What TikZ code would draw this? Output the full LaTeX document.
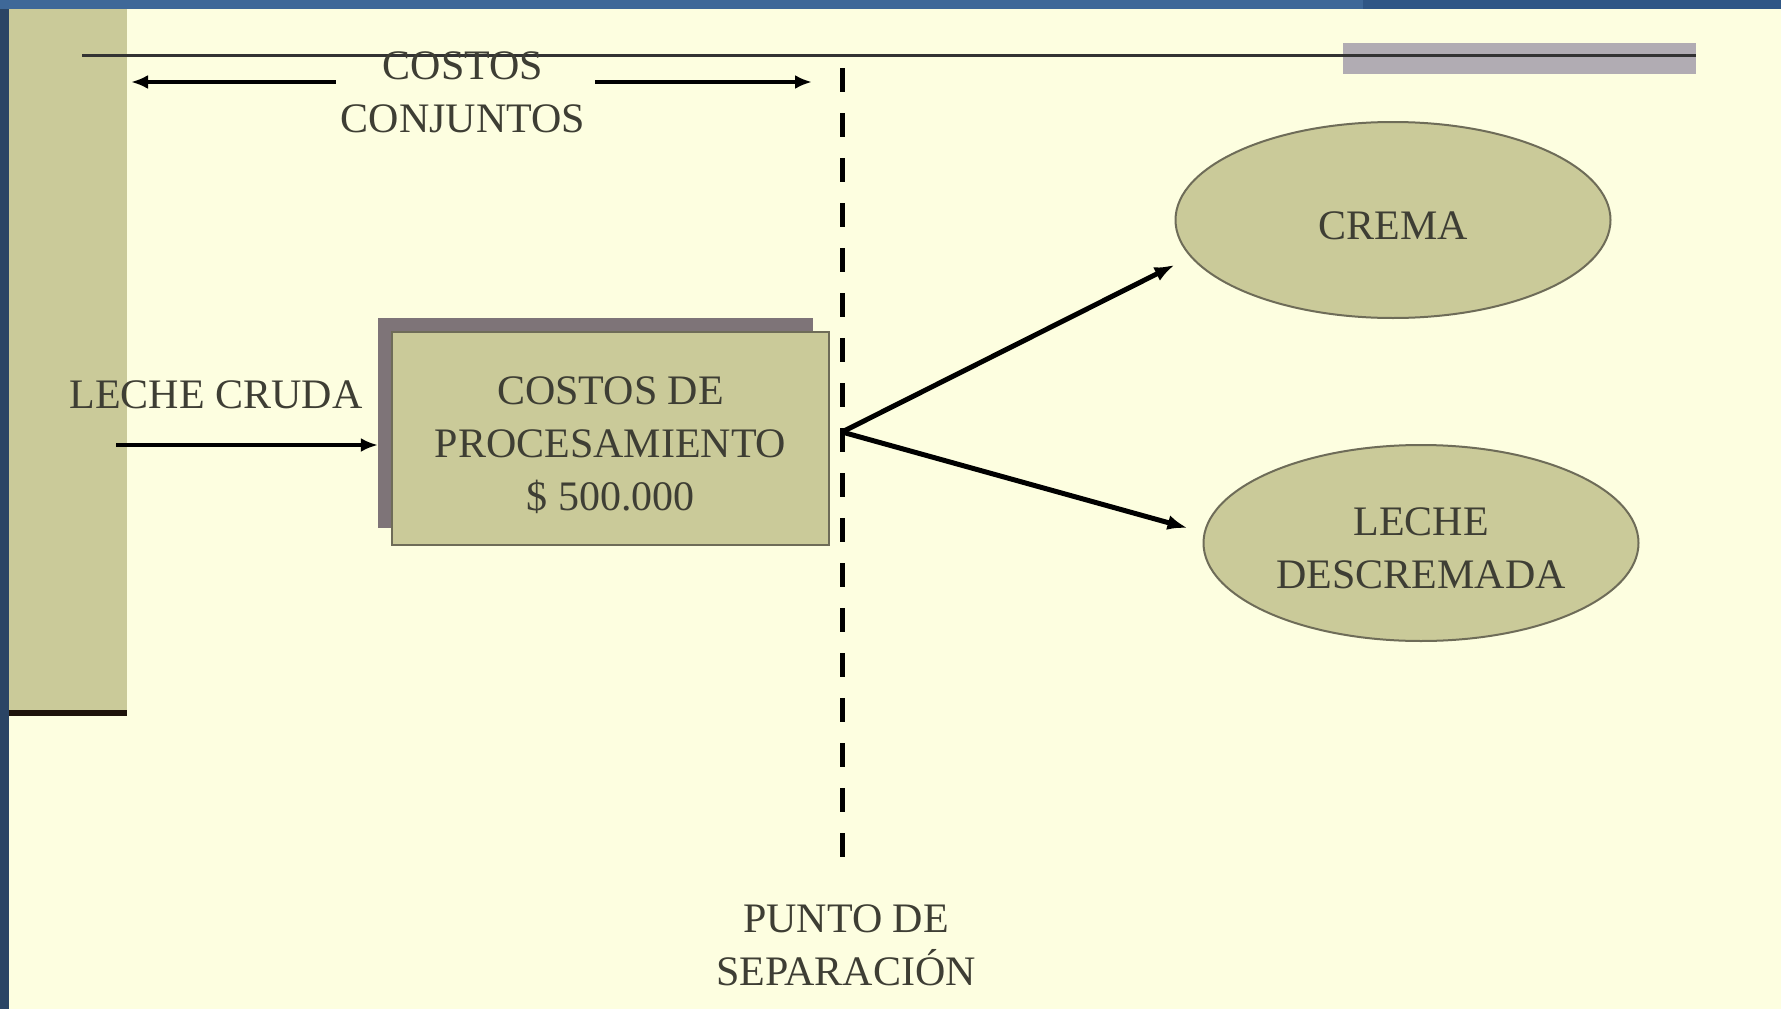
\documentclass[tikz,border=0pt]{standalone}
\usepackage{fontspec}
\setmainfont{Liberation Serif}
\usetikzlibrary{shapes.geometric,arrows.meta}
\definecolor{bgcream}{HTML}{FDFEE0}
\definecolor{khaki}{HTML}{CACA99}
\definecolor{navyL}{HTML}{3E6898}
\definecolor{navyD}{HTML}{2F5685}
\definecolor{navyS}{HTML}{2A4565}
\definecolor{shadowc}{HTML}{7E7478}
\definecolor{graybar}{HTML}{B1ACB3}
\definecolor{txt}{HTML}{3E3E34}
\definecolor{edgec}{HTML}{6E6C58}
\newcommand\lowstrut[1]{\rule{0pt}{#1}}
\begin{document}
\begin{tikzpicture}[x=1pt,y=-1pt,
  lbl/.style={font=\fontsize{42}{53}\selectfont, text=txt, align=center, inner sep=0pt},
  procbox/.style={lbl, draw=edgec, line width=1.5pt, fill=khaki, minimum width=437pt, minimum height=213pt},
  shadowbox/.style={fill=shadowc, draw=none, minimum height=210pt, inner sep=0pt},
  prodell/.style={lbl, ellipse, draw=edgec, line width=2pt, fill=khaki, minimum width=435pt, minimum height=196pt},
  arr/.style={line width=4pt, -{Latex[length=17pt,width=14pt]}},
  bigarr/.style={line width=5pt, -{Latex[length=20pt,width=15pt]}},
  sepline/.style={line width=5pt, dash pattern=on 24pt off 21pt}
]
\useasboundingbox (0,0) rectangle (1781,1009);
% background
\fill[bgcream] (0,0) rectangle (1781,1009);
\fill[navyS] (0,0) rectangle (9,1009);
\fill[navyL] (0,0) rectangle (1363,9);
\fill[navyD] (1363,0) rectangle (1781,9);
\fill[khaki] (9,9) rectangle (127,713);
\draw[line width=6pt, color=black!85!brown] (9,713) -- (127,713);
% top rule with grey bar
\fill[graybar] (1343,43) rectangle (1696,74);
\coordinate (tl) at (82,55);
\coordinate (tr) at (1696,55);
\draw[line width=3pt, color=black!80] (tl) -- (tr);

% joint costs label and arrows
\node[lbl] (conj) at (463,92) {COSTOS\\CONJUNTOS};
\coordinate (cjL) at (131,82);
\coordinate (cjR) at (812,82);
\draw[arr] (conj.west |- cjL) ++(-5,0) -- (cjL);
\draw[arr] (conj.east |- cjR) ++(10,0) -- (cjR);

% split line
\coordinate (dtop) at (842,68);
\coordinate (dbot) at (842,866);
\draw[sepline] (dtop) -- (dbot);
\node[lbl] (punto) at (846,945) {PUNTO DE\\SEPARACIÓN};

% processing box
\node[shadowbox, minimum width=435pt] (shadow) at (595.5,423) {};
\node[procbox] (proc) at (610.5,438.5) {\lowstrut{41pt}COSTOS DE\\PROCESAMIENTO\\\$ 500.000};

% raw milk input
\node[lbl] (cruda) at (216,395) {LECHE CRUDA};
\coordinate (crudaStart) at (116,445);
\draw[arr] (crudaStart) -- (shadow.west |- crudaStart);

% products
\node[prodell] (crema) at (1393,220) {\lowstrut{40pt}CREMA};
\node[prodell] (desc) at (1421,543) {\lowstrut{38pt}LECHE\\DESCREMADA};

\coordinate (split) at (842,432);
\draw[bigarr] (split) -- ([yshift=-45pt]crema.west);
\draw[bigarr] (split) -- ([xshift=-15pt,yshift=15pt]desc.west);
\end{tikzpicture}
\end{document}
